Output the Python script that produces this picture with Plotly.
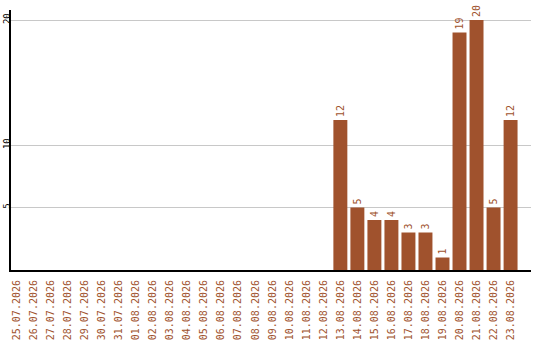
import plotly.graph_objects as go

# Daily counts, 25.07.2026 – 23.08.2026
dates = [
    "25.07.2026", "26.07.2026", "27.07.2026", "28.07.2026", "29.07.2026",
    "30.07.2026", "31.07.2026", "01.08.2026", "02.08.2026", "03.08.2026",
    "04.08.2026", "05.08.2026", "06.08.2026", "07.08.2026", "08.08.2026",
    "09.08.2026", "10.08.2026", "11.08.2026", "12.08.2026", "13.08.2026",
    "14.08.2026", "15.08.2026", "16.08.2026", "17.08.2026", "18.08.2026",
    "19.08.2026", "20.08.2026", "21.08.2026", "22.08.2026", "23.08.2026",
]
counts = [None] * 19 + [12, 5, 4, 4, 3, 3, 1, 19, 20, 5, 12]
y_ticks = [5, 10, 20]

BAR = "#a0522d"
FONT = "DejaVu Sans Mono"

fig = go.Figure(
    go.Bar(
        x=list(range(len(dates))),
        y=counts,
        marker=dict(color=BAR, line=dict(width=0)),
        text=[str(v) if v else "" for v in counts],
        textposition="outside",
        textangle=-90,
        textfont=dict(family=FONT, size=10, color=BAR),
        cliponaxis=False,
        hoverinfo="skip",
    )
)

fig.update_layout(
    width=540,
    height=340,
    margin=dict(l=11, r=9, t=10, b=70),
    paper_bgcolor="white",
    plot_bgcolor="white",
    bargap=0.18,
    showlegend=False,
    uniformtext=dict(minsize=10, mode="show"),
)

fig.update_xaxes(
    range=[-0.35, 30.2],
    tickmode="array",
    tickvals=list(range(len(dates))),
    ticktext=dates,
    tickangle=-90,
    tickfont=dict(family=FONT, size=10, color=BAR),
    ticks="",
    ticklabelstandoff=4,
    automargin=False,
    showgrid=False,
    showline=True,
    linecolor="black",
    linewidth=2,
    zeroline=False,
    fixedrange=True,
)

fig.update_yaxes(
    range=[0, 20.8],
    tickmode="array",
    tickvals=y_ticks,
    ticktext=[str(t) for t in y_ticks],
    tickangle=-90,
    tickfont=dict(family=FONT, size=9, color="black"),
    ticks="",
    ticklabelstandoff=-5,
    automargin=False,
    showgrid=True,
    gridcolor="#c8c8c8",
    gridwidth=1,
    showline=True,
    linecolor="black",
    linewidth=2,
    zeroline=False,
    fixedrange=True,
)

fig.write_html("out.html", config={"displayModeBar": False})
